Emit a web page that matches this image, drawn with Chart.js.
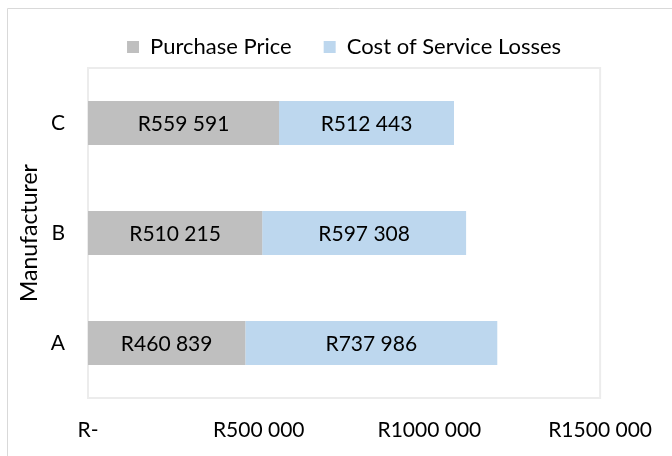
<!DOCTYPE html>
<html>
<head>
<meta charset="utf-8">
<script src="https://cdn.jsdelivr.net/npm/chart.js@4/dist/chart.umd.min.js"></script>
<style>
  html, body { margin: 0; padding: 0; background: #fff; }
  #wrap { width: 672px; height: 456px; position: relative; }
</style>
</head>
<body>
<div id="wrap"><canvas id="mycan1" width="672" height="456"></canvas></div>
<script>
var manufacturers = ['C', 'B', 'A'];
var purchasePrice = [559591, 510215, 460839];
var serviceLosses = [512443, 597308, 737986];
var seriesNames = ['Purchase Price', 'Cost of Service Losses'];
var xTicks = [0, 500000, 1000000, 1500000];

var FONT = 'Lato, "Open Sans", sans-serif';

// Excel style "R# ##0" - only one group separator
function rand(v) {
	if (v === 0) return 'R-';
	var s = String(v);
	if (s.length > 3) s = s.slice(0, -3) + ' ' + s.slice(-3);
	return 'R' + s;
}

// outer frame (top + left only, the rest is cut off) + plot box
var frame = {
	id: 'frame',
	afterLayout: function(chart) {
		// centre the legend over the plot area like excel does
		var lg = chart.legend, a = chart.chartArea;
		var dx = (a.left + a.right) / 2 - (lg.left + lg.right) / 2;
		lg.left += dx;
		lg.right += dx;
	},
	beforeDraw: function(chart) {
		var c = chart.ctx, a = chart.chartArea;
		c.save();
		c.strokeStyle = '#d9d9d9';
		c.lineWidth = 1;
		c.beginPath();
		c.moveTo(7.5, chart.height);
		c.lineTo(7.5, 8.5);
		c.lineTo(chart.width, 8.5);
		c.stroke();
		c.strokeStyle = '#ececec';
		c.lineWidth = 2;
		c.strokeRect(a.left, a.top, a.right - a.left, a.bottom - a.top);
		c.restore();
	}
};

// value labels in the middle of each bar
var barLabels = {
	id: 'barLabels',
	afterDatasetsDraw: function(chart) {
		var c = chart.ctx;
		c.save();
		c.font = '21px ' + FONT;
		c.fillStyle = '#000';
		c.textAlign = 'center';
		c.textBaseline = 'middle';
		chart.data.datasets.forEach(function(ds, i) {
			chart.getDatasetMeta(i).data.forEach(function(bar, j) {
				var p = bar.getProps(['x', 'y', 'base'], true);
				c.fillText(rand(ds.data[j]), (p.x + p.base) / 2, p.y + 1);
			});
		});
		c.restore();
	}
};

var chartdata = {
	labels: manufacturers,
	datasets: [
		{
			label: seriesNames[0],
			backgroundColor: '#bfbfbf',
			data: purchasePrice,
			barPercentage: 0.4,
			categoryPercentage: 1
		},
		{
			label: seriesNames[1],
			backgroundColor: '#bdd7ee',
			data: serviceLosses,
			barPercentage: 0.4,
			categoryPercentage: 1
		}
	]
};

new Chart(document.getElementById('mycan1'), {
	type: 'bar',
	data: chartdata,
	plugins: [frame, barLabels],
	options: {
		indexAxis: 'y',
		responsive: false,
		animation: false,
		layout: { padding: { left: 16, right: 68, top: 4, bottom: 0 } },
		plugins: {
			legend: {
				labels: {
					boxWidth: 12,
					boxHeight: 12,
					color: '#000',
					padding: 32,
					font: { family: FONT, size: 22 }
				}
			},
			tooltip: { enabled: false }
		},
		scales: {
			x: {
				stacked: true,
				min: 0,
				max: 1500000,
				afterBuildTicks: function(s) {
					s.ticks = xTicks.map(function(v) { return { value: v }; });
				},
				afterFit: function(s) { s.height = 58; },
				ticks: {
					padding: 20,
					color: '#000',
					font: { family: FONT, size: 21 },
					callback: function(v) { return rand(v); }
				},
				grid: { display: false, drawTicks: false },
				border: { display: false }
			},
			y: {
				stacked: true,
				afterFit: function(s) { s.width = 72; },
				title: {
					display: true,
					text: 'Manufacturer',
					color: '#000',
					font: { family: FONT, size: 23 },
					padding: { top: 0, bottom: 0 }
				},
				ticks: {
					padding: 23,
					color: '#000',
					font: { family: FONT, size: 21 }
				},
				grid: { display: false, drawTicks: false },
				border: { display: false }
			}
		}
	}
});
</script>
</body>
</html>
